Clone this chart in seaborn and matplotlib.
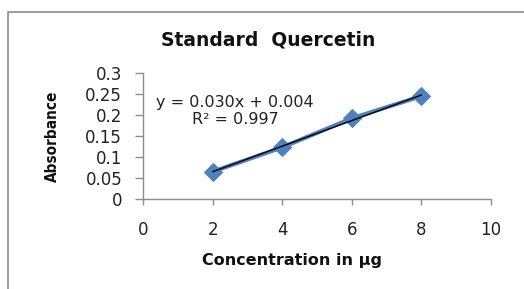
import numpy as np
import pandas as pd
import seaborn as sns
import matplotlib
matplotlib.use("Agg")
import matplotlib.pyplot as plt
from matplotlib import font_manager
from matplotlib.patches import Rectangle

# ---- data ----
concentration = [2, 4, 6, 8]
absorbance = [0.065, 0.123, 0.192, 0.245]
x_ticks = [0, 2, 4, 6, 8, 10]
y_ticks = [0, 0.05, 0.1, 0.15, 0.2, 0.25, 0.3]
y_tick_labels = ["0", "0.05", "0.1", "0.15", "0.2", "0.25", "0.3"]
title_text = "Standard  Quercetin"
x_label = "Concentration in μg"
y_label = "Absorbance"
equation_text = "y = 0.030x + 0.004\nR² = 0.997"

df = pd.DataFrame({"conc": concentration, "abs": absorbance})

sns.set_theme(style="white")
plt.rcParams["font.family"] = ["DejaVu Sans"]

W, H = 524, 289
fig = plt.figure(figsize=(W / 100, H / 100), dpi=100)
fig.patch.set_facecolor("white")

# outer chart frame (cut by the image edges)
fig.add_artist(Rectangle((8 / W, -0.2), 1.2, 1 - 12 / H + 0.2,
                         transform=fig.transFigure, fill=False,
                         edgecolor="#8c8c8c", linewidth=1.2))

left, right, top, bottom = 143, 491, 73, 199
ax = fig.add_axes([left / W, 1 - bottom / H, (right - left) / W, (bottom - top) / H])
ax.set_facecolor("none")

blue = "#4F81BD"
sns.lineplot(data=df, x="conc", y="abs", ax=ax, color=blue, linewidth=3,
             marker="D", markersize=9, markeredgecolor=blue, zorder=3)
sns.regplot(data=df, x="conc", y="abs", ax=ax, scatter=False, ci=None,
            color="black", line_kws={"linewidth": 1.0, "zorder": 4})

ax.set_xlim(0, 10)
ax.set_ylim(0, 0.3)
ax.set_xticks(x_ticks)
ax.set_yticks(y_ticks)
ax.set_yticklabels(y_tick_labels)
ax.set_xlabel("")
ax.set_ylabel("")

for side in ["top", "right"]:
    ax.spines[side].set_visible(False)
for side in ["left", "bottom"]:
    ax.spines[side].set_color("#8c8c8c")
    ax.spines[side].set_linewidth(1.0)

ax.tick_params(axis="y", which="major", direction="out", length=6, width=1,
               color="#8c8c8c", pad=9, labelsize=12, labelcolor="#222222", left=True)
ax.tick_params(axis="x", which="major", direction="out", length=4, width=1,
               color="#8c8c8c", pad=12, labelsize=12, labelcolor="#222222", bottom=True)

fig.text(268 / W, 1 - 40 / H, title_text, ha="center", va="center",
         fontsize=13.5, fontweight="bold", color="#111111")
fig.text(292 / W, 1 - 260 / H, x_label, ha="center", va="center",
         fontsize=11.5, fontweight="bold", color="#111111")
fig.text(52 / W, 1 - 136 / H, y_label, ha="center", va="center", rotation=90,
         fontsize=11, fontweight="bold", fontstretch="condensed",
         family=["DejaVu Sans"], color="#111111")
fig.text(235 / W, 1 - 111 / H, equation_text, ha="center", va="center",
         fontsize=11.5, color="#222222", linespacing=1.15, multialignment="center")

fig.savefig("out.png", dpi=100)
